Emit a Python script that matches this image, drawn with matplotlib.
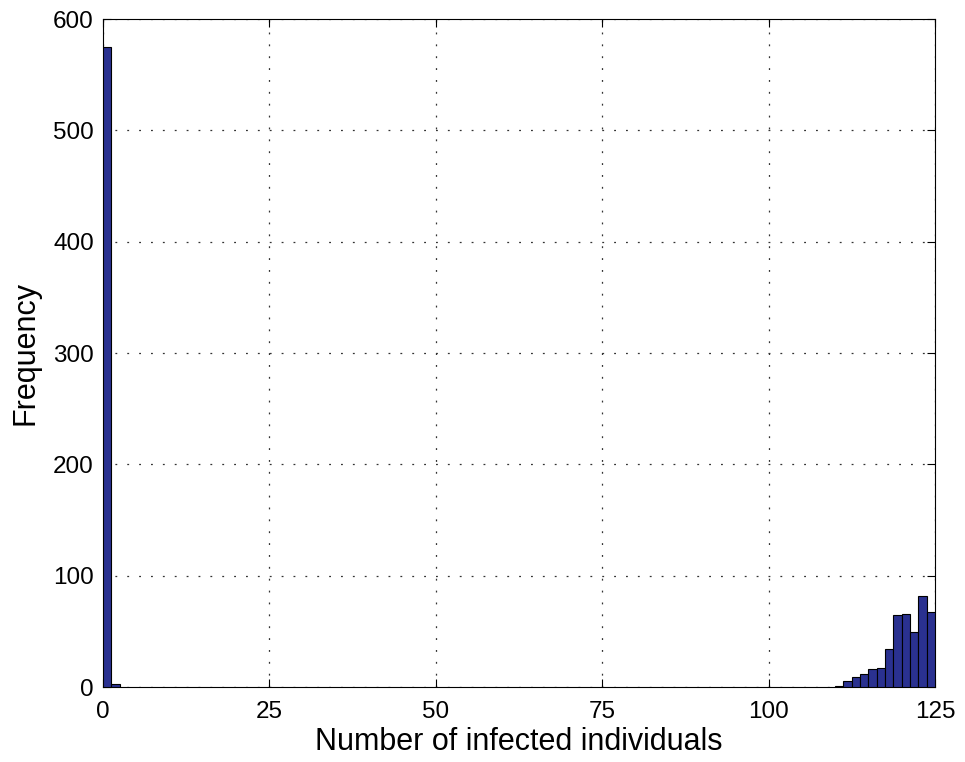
import numpy as np
import matplotlib.pyplot as plt

plt.rcParams['font.family'] = ['Liberation Sans', 'DejaVu Sans']

# histogram: 100 bins of width 1.25 over 0..125, only non-empty bins listed
bin_left = [0, 1.25, 110, 111.25, 112.5, 113.75, 115, 116.25, 117.5,
            118.75, 120, 121.25, 122.5, 123.75]
counts = [575, 3, 1, 5, 9, 12, 16, 17, 34, 65, 66, 49, 82, 67]
bin_width = 1.25

x_ticks = [0, 25, 50, 75, 100, 125]
y_ticks = [0, 100, 200, 300, 400, 500, 600]

fig = plt.figure(figsize=(9.65, 7.62), dpi=100)
ax = fig.add_axes([0.1067, 0.0984, 0.8622, 0.8766])

ax.bar(bin_left, counts, width=bin_width, align='edge',
       color='#2a3190', edgecolor='black', linewidth=0.8, zorder=3)

ax.set_xlim(0, 125)
ax.set_ylim(0, 600)
ax.set_xticks(x_ticks)
ax.set_yticks(y_ticks)
ax.grid(True, linestyle=(0, (1.5, 8)), color='#333333', linewidth=0.9, zorder=0)
ax.tick_params(direction='in', top=True, right=True, labelsize=17.5, length=6)
ax.tick_params(axis='x', pad=10)
ax.tick_params(axis='y', pad=6.5)
for s in ax.spines.values():
    s.set_linewidth(0.8)

ax.set_xlabel('Number of infected individuals', fontsize=22, labelpad=3)
ax.set_ylabel('Frequency', fontsize=22, labelpad=9)

fig.savefig('out.png', dpi=100)
